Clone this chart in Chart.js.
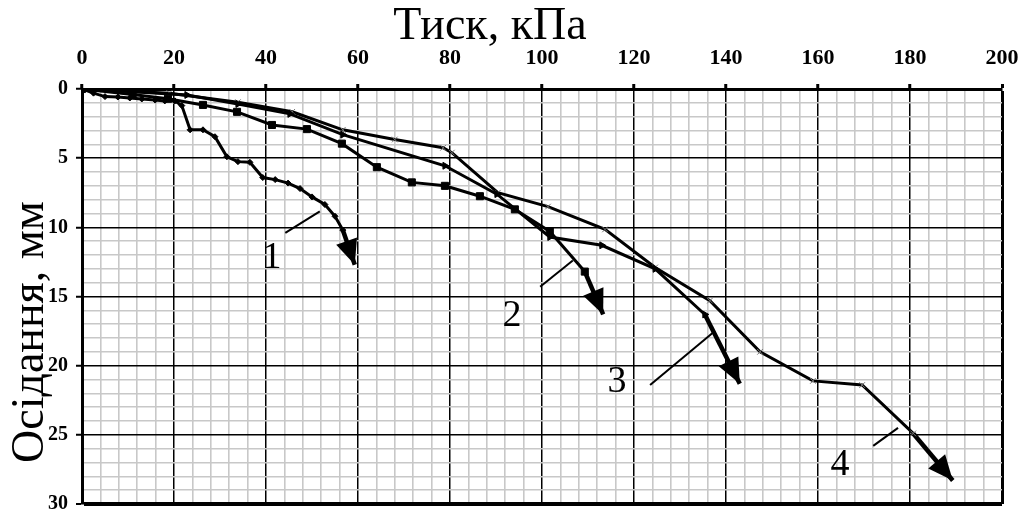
<!DOCTYPE html>
<html>
<head>
<meta charset="utf-8">
<title>Осідання від тиску</title>
<script src="https://cdn.jsdelivr.net/npm/chart.js@4.4.1/dist/chart.umd.min.js"></script>
<style>
  html, body { margin: 0; padding: 0; background: #fff; }
  #wrap { width: 1024px; height: 510px; }
</style>
</head>
<body>
<div id="wrap"><canvas id="chart" width="1024" height="510"></canvas></div>
<script>
// Settlement vs. pressure, four test curves (1..4), each ending in an arrow.
// Values.

const xTicks = [0, 20, 40, 60, 80, 100, 120, 140, 160, 180, 200];
const yTicks = [0, 5, 10, 15, 20, 25, 30];

// curve 1 (small diamonds)
const load1 = [0, 2.5, 5, 7.8, 10.4, 13, 15.9, 18, 20.2, 21.7, 23.5, 26.3, 28.9, 31.5, 33.9, 36.5, 39.3, 42, 44.8, 47.4, 50, 52.8, 55, 56.7, 59.3];
const settle1 = [0, 0.3, 0.55, 0.58, 0.65, 0.72, 0.8, 0.86, 0.86, 1.2, 2.95, 2.95, 3.45, 4.9, 5.25, 5.3, 6.4, 6.55, 6.8, 7.2, 7.8, 8.35, 9.2, 10.2, 12.7];

// curve 2 (squares)
const load2 = [0, 11, 18.7, 26.3, 33.7, 41.3, 48.9, 56.5, 64.1, 71.7, 78.9, 86.5, 94.1, 101.7, 109.3, 113.3];
const settle2 = [0, 0.4, 0.7, 1.15, 1.65, 2.6, 2.9, 3.95, 5.65, 6.75, 7.0, 7.75, 8.7, 10.3, 13.2, 16.3];

// curve 3 (triangles)
const load3 = [0, 11, 22.8, 33.9, 45.2, 56.7, 78.9, 90.2, 101.7, 113, 124.6, 135.4, 143];
const settle3 = [0, 0.2, 0.43, 1.08, 1.8, 3.3, 5.55, 7.6, 10.7, 11.3, 13.0, 16.3, 21.3];

// curve 4 (thin crosses)
const load4 = [0, 19, 33.9, 45.7, 56.7, 68, 78.5, 80.4, 90.4, 101.3, 113.7, 124.6, 136.5, 147.4, 158.9, 169.6, 180.7, 189.3];
const settle4 = [0, 0.3, 0.95, 1.65, 2.95, 3.65, 4.25, 4.6, 7.5, 8.5, 10.15, 12.9, 15.3, 19.0, 21.1, 21.4, 24.9, 28.3];

// leader lines from the curve numbers to the curves
const leaderLoad = [[44.2, 51.7], [99.6, 106.7], [123.5, 137.6], [172, 177.4]];
const leaderSettle = [[10.4, 8.85], [14.3, 12.4], [21.4, 17.5], [25.8, 24.5]];

// curve numbers
const tagText = ["1", "2", "3", "4"];
const tagLoad = [41.3, 93.5, 116.3, 164.8];
const tagSettle = [12.2, 16.4, 21.15, 27.2];

const toXY = (xs, ys) => xs.map((x, i) => ({ x, y: ys[i] }));
const SERIF = "'Liberation Serif', 'DejaVu Serif', serif";

function curve(xs, ys, style, radius, extra) {
  const n = xs.length;
  return Object.assign({
    data: toXY(xs, ys),
    arrow: true,
    borderColor: "#000",
    backgroundColor: "#000",
    borderWidth: 3,
    pointStyle: style,
    pointRadius: ctx => ctx.dataIndex === n - 1 ? 0 : radius,
    pointBackgroundColor: "#000",
    pointBorderColor: "#000",
    pointBorderWidth: 1,
    segment: { borderWidth: ctx => ctx.p1DataIndex === n - 1 ? 4.5 : 3 },
    tension: 0,
  }, extra || {});
}

const datasets = [
  curve(load1, settle1, "rectRot", 3),
  curve(load2, settle2, "rect", 5),
  curve(load3, settle3, "triangle", 4, { pointRotation: 90 }),
  curve(load4, settle4, "crossRot", 4, { pointBorderColor: "#777", pointBorderWidth: 1 }),
];
leaderLoad.forEach((xs, i) => {
  datasets.push({
    data: toXY(xs, leaderSettle[i]),
    borderColor: "#000",
    borderWidth: 2,
    pointRadius: 0,
  });
});

const isMajor = (v, step) => Math.abs(v / step - Math.round(v / step)) < 1e-6;

// arrowheads at the end of each curve
const arrowHeads = {
  id: "arrowHeads",
  afterDatasetsDraw(chart) {
    const ctx = chart.ctx;
    chart.data.datasets.forEach((ds, i) => {
      if (!ds.arrow) return;
      const pts = chart.getDatasetMeta(i).data;
      const a = pts[pts.length - 2], b = pts[pts.length - 1];
      const ang = Math.atan2(b.y - a.y, b.x - a.x);
      const len = 25, half = 11;
      ctx.save();
      ctx.translate(b.x, b.y);
      ctx.rotate(ang);
      ctx.beginPath();
      ctx.moveTo(0, 0);
      ctx.lineTo(-len, -half);
      ctx.lineTo(-len, half);
      ctx.closePath();
      ctx.fillStyle = "#000";
      ctx.fill();
      ctx.restore();
    });
  }
};

// curve numbers and axis titles
const textLayer = {
  id: "textLayer",
  afterDraw(chart) {
    const ctx = chart.ctx;
    const xs = chart.scales.x, ys = chart.scales.y;
    ctx.save();
    ctx.fillStyle = "#000";
    ctx.textAlign = "center";
    ctx.textBaseline = "middle";
    ctx.font = "38px " + SERIF;
    tagText.forEach((t, i) => {
      ctx.fillText(t, xs.getPixelForValue(tagLoad[i]), ys.getPixelForValue(tagSettle[i]));
    });

    ctx.font = "46px " + SERIF;
    ctx.textBaseline = "alphabetic";
    ctx.fillText("Тиск, кПа", 490, 39);

    ctx.translate(43, 332);
    ctx.rotate(-Math.PI / 2);
    ctx.fillText("Осідання, мм", 0, 0);
    ctx.restore();
  }
};

new Chart(document.getElementById("chart"), {
  type: "line",
  data: { datasets },
  plugins: [arrowHeads, textLayer],
  options: {
    responsive: false,
    animation: false,
    devicePixelRatio: 1,
    layout: { padding: { left: 0, top: 0, right: 22, bottom: 5 } },
    plugins: {
      legend: { display: false },
      tooltip: { enabled: false },
    },
    scales: {
      x: {
        type: "linear",
        position: "top",
        min: 0,
        max: 200,
        afterFit: s => { s.height = 89; s.paddingLeft = 0; s.paddingRight = 0; },
        afterBuildTicks: s => { s.ticks = []; for (let v = 0; v <= 200; v += 4) s.ticks.push({ value: v }); },
        ticks: {
          autoSkip: false,
          maxRotation: 0,
          padding: 12,
          color: "#000",
          font: { family: SERIF, size: 22, weight: "bold" },
          callback: v => xTicks.includes(v) ? String(v) : "",
        },
        grid: {
          color: c => isMajor(c.tick.value, 20) ? "#000" : "#c8c8c8",
          lineWidth: c => (c.tick.value === 200 ? 3 : isMajor(c.tick.value, 20) ? 1.5 : 1.6),
          tickColor: c => isMajor(c.tick.value, 20) ? "#000" : "rgba(0,0,0,0)",
          tickWidth: 3,
          tickLength: 5,
        },
        border: { color: "#000", width: 3 },
      },
      y: {
        type: "linear",
        reverse: true,
        min: 0,
        max: 30,
        afterFit: s => { s.width = 82; s.paddingTop = 0; s.paddingBottom = 0; },
        afterBuildTicks: s => { s.ticks = []; for (let v = 0; v <= 30; v += 1) s.ticks.push({ value: v }); },
        ticks: {
          autoSkip: false,
          padding: 8,
          color: "#000",
          font: { family: SERIF, size: 20, weight: "bold" },
          callback: v => yTicks.includes(v) ? String(v) : "",
        },
        grid: {
          color: c => isMajor(c.tick.value, 5) ? "#000" : "#c8c8c8",
          lineWidth: c => (c.tick.value === 30 ? 4 : isMajor(c.tick.value, 5) ? 1.5 : 1.6),
          tickColor: c => isMajor(c.tick.value, 5) ? "#000" : "rgba(0,0,0,0)",
          tickWidth: 2,
          tickLength: 6,
        },
        border: { color: "#000", width: 3 },
      },
    },
  },
});
</script>
</body>
</html>
